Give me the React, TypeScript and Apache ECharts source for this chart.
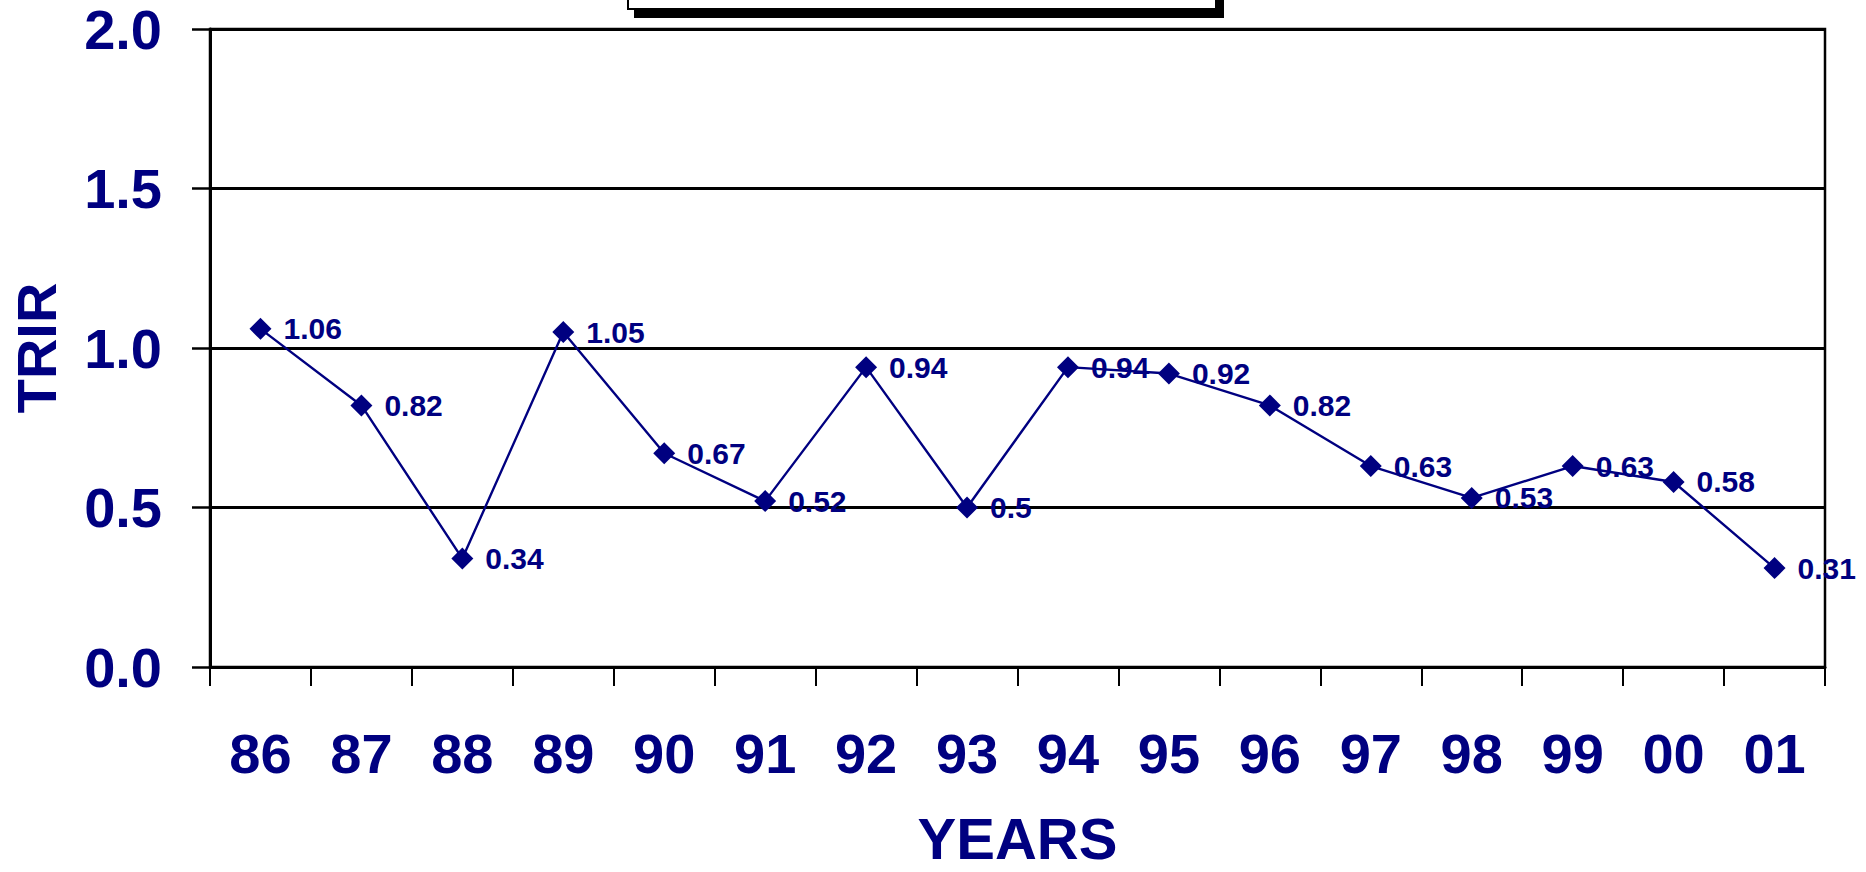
import React, { useEffect, useRef } from "react";
import * as echarts from "echarts";

const years = ["86", "87", "88", "89", "90", "91", "92", "93", "94", "95", "96", "97", "98", "99", "00", "01"];
const trir = [1.06, 0.82, 0.34, 1.05, 0.67, 0.52, 0.94, 0.5, 0.94, 0.92, 0.82, 0.63, 0.53, 0.63, 0.58, 0.31];
const yTicks = { min: 0, max: 2, interval: 0.5 };

const NAVY = "#000080";
const FONT = "'Liberation Sans', Arial, Helvetica, sans-serif";
const NARROW = "'Liberation Sans Narrow', 'Arial Narrow', 'Liberation Sans', Arial, sans-serif";

export default function App() {
  const ref = useRef<HTMLDivElement>(null);
  useEffect(() => {
    if (!ref.current) return;
    const chart = echarts.init(ref.current, null, { renderer: "svg" });
    chart.setOption({
      animation: false,
      backgroundColor: "#ffffff",
      grid: { left: 209, right: 41, top: 29, bottom: 193, show: true, borderColor: "#000", borderWidth: 2.5, backgroundColor: "transparent" },
      graphic: [
        { type: "rect", shape: { x: 634, y: -60, width: 590, height: 78 }, style: { fill: "#000" }, z: 10 },
        { type: "rect", shape: { x: 628, y: -60, width: 588, height: 69 }, style: { fill: "#fff", stroke: "#000", lineWidth: 2 }, z: 11 },
      ],
      xAxis: {
        type: "category",
        data: years,
        boundaryGap: true,
        name: "YEARS",
        nameLocation: "middle",
        nameGap: 142,
        nameTextStyle: { color: NAVY, fontFamily: FONT, fontWeight: "bold", fontSize: 58 },
        axisLine: { show: true, lineStyle: { color: "#000", width: 3 } },
        axisTick: { show: true, length: 19, interval: 0, lineStyle: { color: "#000", width: 2 } },
        axisLabel: { color: NAVY, fontFamily: FONT, fontWeight: "bold", fontSize: 56, margin: 58, interval: 0 },
        splitLine: { show: false },
      },
      yAxis: {
        type: "value",
        min: yTicks.min,
        max: yTicks.max,
        interval: yTicks.interval,
        name: "TRIR",
        nameLocation: "middle",
        nameGap: 146,
        nameRotate: 90,
        nameTextStyle: { color: NAVY, fontFamily: FONT, fontWeight: "bold", fontSize: 56 },
        axisLine: { show: true, lineStyle: { color: "#000", width: 3 } },
        axisTick: { show: true, length: 18, inside: false, lineStyle: { color: "#000", width: 2.5 } },
        axisLabel: {
          color: NAVY,
          fontFamily: FONT,
          fontWeight: "bold",
          fontSize: 56,
          margin: 48,
          formatter: (v: number) => v.toFixed(1),
        },
        splitLine: { show: true, lineStyle: { color: "#000", width: 2.8 } },
      },
      series: [
        {
          type: "line",
          data: trir,
          symbol: "diamond",
          symbolSize: 22,
          lineStyle: { color: NAVY, width: 2.4 },
          itemStyle: { color: NAVY },
          label: {
            show: true,
            position: "right",
            distance: 12,
            color: NAVY,
            fontFamily: NARROW,
            fontWeight: "bold",
            fontSize: 30,
            formatter: (p: any) => String(p.value),
          },
          z: 5,
        },
      ],
    });
    return () => chart.dispose();
  }, []);
  return <div ref={ref} style={{ position: "fixed", left: 0, top: 0, width: 1866, height: 872 }} />;
}
